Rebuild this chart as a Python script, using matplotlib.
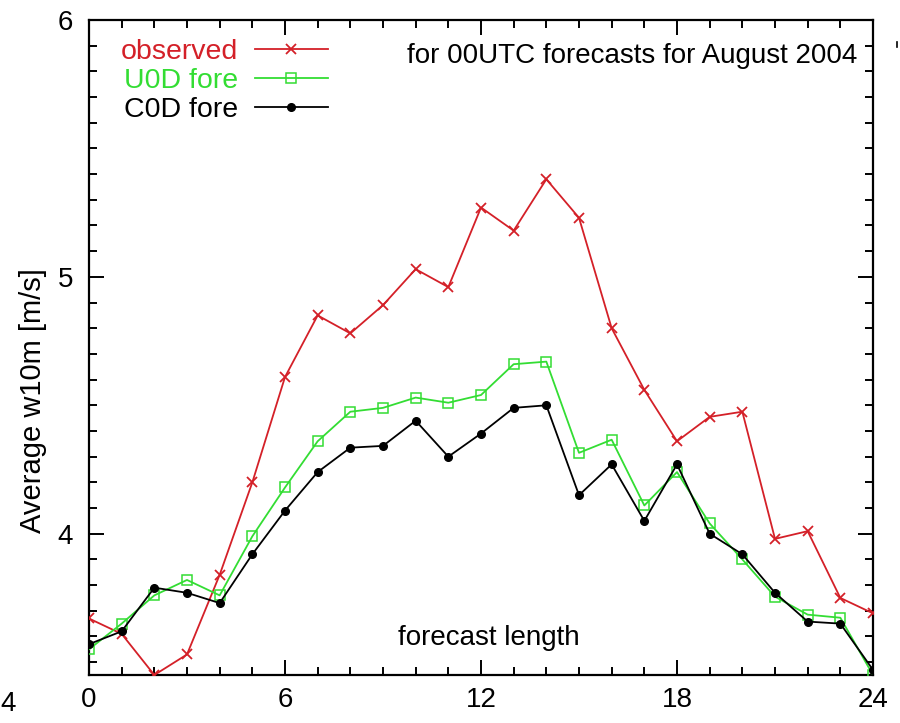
import matplotlib
matplotlib.use("Agg")
import matplotlib.pyplot as plt
from matplotlib.lines import Line2D

plt.rcParams['font.family'] = ['Liberation Sans', 'DejaVu Sans']

hours = list(range(0, 25))
observed = [3.67, 3.61, 3.45, 3.53, 3.84, 4.20, 4.61, 4.85, 4.78, 4.89, 5.03, 4.96,
            5.27, 5.18, 5.38, 5.23, 4.80, 4.56, 4.36, 4.455, 4.475, 3.98, 4.01, 3.75, 3.69]
u0d_fore = [3.55, 3.65, 3.76, 3.82, 3.76, 3.99, 4.18, 4.36, 4.475, 4.49, 4.53, 4.51,
            4.54, 4.66, 4.67, 4.315, 4.366, 4.11, 4.24, 4.04, 3.90, 3.755, 3.685, 3.673, 3.45]
c0d_fore = [3.57, 3.62, 3.79, 3.77, 3.73, 3.92, 4.09, 4.24, 4.335, 4.342, 4.44, 4.30,
            4.39, 4.49, 4.50, 4.15, 4.27, 4.05, 4.27, 4.00, 3.92, 3.77, 3.658, 3.65, 3.47]

series_labels = ["observed", "U0D fore", "C0D fore"]
x_ticks = [0, 6, 12, 18, 24]
y_ticks = [4, 5, 6]

RED = '#d42028'
GREEN = '#33dd33'
BLACK = '#000000'

fig = plt.figure(figsize=(9.0, 7.23), dpi=100)
ax = fig.add_axes([89/900, 1 - 675/723, 784/900, 655/723])

ax.plot(hours, observed, color=RED, lw=1.3, marker='x', ms=6.5, mew=1.3, zorder=3)
ax.plot(hours, u0d_fore, color=GREEN, lw=1.3, marker='s', ms=6.5, mfc='none', mew=1.1, zorder=3)
ax.plot(hours, c0d_fore, color=BLACK, lw=1.3, marker='o', ms=5.5, zorder=4)

ax.set_xlim(0, 24)
ax.set_ylim(3.45, 6)
ax.set_xticks(x_ticks)
ax.set_yticks(y_ticks)
ax.set_xticks(range(0, 25), minor=True)
ax.set_yticks([3.5 + 0.1 * i for i in range(25)], minor=True)
ax.tick_params(which='both', direction='in', top=True, right=True, width=1.4)
ax.tick_params(which='major', length=11, labelsize=20)
ax.tick_params(axis='x', which='major', pad=8.5)
ax.tick_params(axis='y', which='major', pad=11.5)
ax.tick_params(which='minor', length=5.5)
for s in ax.spines.values():
    s.set_linewidth(1.6)

ax.set_ylabel("Average w10m [m/s]", fontsize=21)
ax.yaxis.label.set_va('center')
ax.yaxis.set_label_coords((33 - 89) / 784, 1 - (401 - 20) / 655)

# legend (gnuplot style: text right-aligned, sample to the right)
colors = [RED, GREEN, BLACK]
markers = [dict(marker='x', ms=6.5, mew=1.3), dict(marker='s', ms=6.5, mfc='none', mew=1.1),
           dict(marker='o', ms=5.5)]
baselines = [59, 88, 117]
for lab, c, m, yb in zip(series_labels, colors, markers, baselines):
    yf = 1 - (yb - 20) / 655
    ax.text((238 - 89) / 784, yf, lab, color=c, fontsize=20.5, ha='right', va='baseline',
            transform=ax.transAxes)
    ym = 1 - (yb - 10 - 20) / 655
    ax.add_line(Line2D([(255 - 89) / 784, (328 - 89) / 784], [ym, ym], color=c, lw=1.3,
                       transform=ax.transAxes))
    ax.add_line(Line2D([(291 - 89) / 784], [ym], color=c, transform=ax.transAxes,
                       linestyle='none', **m))

ax.text((857 - 89) / 784, 1 - (63 - 20) / 655, "for 00UTC forecasts for August 2004",
        fontsize=20, ha='right', va='baseline', transform=ax.transAxes)
ax.text((489 - 89) / 784, 1 - (645 - 20) / 655, "forecast length",
        fontsize=20, ha='center', va='baseline', transform=ax.transAxes)

# stray marks at the figure edges
fig.text(0.5 / 900, 1 - 704 / 723, "4", fontsize=20, ha='left', va='center')
fig.add_artist(Line2D([897 / 900, 897 / 900], [1 - 42 / 723, 1 - 47 / 723], color='black', lw=1.2))

fig.savefig("out.png", dpi=100)
